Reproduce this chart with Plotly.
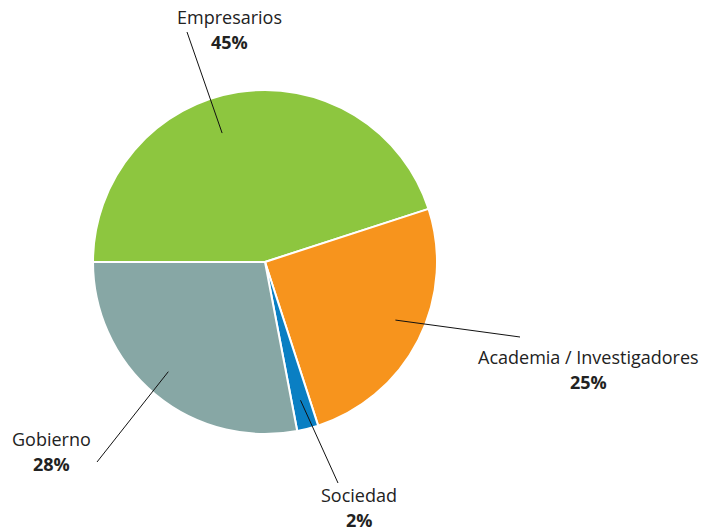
import math
import plotly.graph_objects as go

labels = ["Empresarios", "Academia / Investigadores", "Sociedad", "Gobierno"]
values = [45, 25, 2, 28]
pct_text = ["45%", "25%", "2%", "28%"]
colors = ["#8DC63F", "#F7941D", "#0A7FC3", "#87A7A5"]

W, H = 701, 531
cx, cy, R = 265, 262, 172  # pie center / radius in pixels (layout)

# layout positions of labels (pixels) and leader line ends
label_pos = [(229, 17), (588, 357), (359, 495), (51, 439)]
line_outer = [(187, 32), (520, 337), (338, 483), (97, 462)]
line_angle_adj = [9.4, 3.0, 0.0, -1.8]
line_rfrac = [0.79, 0.83, 0.83, 0.85]

fig = go.Figure(go.Pie(
    labels=labels, values=values, sort=False, direction="clockwise",
    rotation=270, textinfo="none", hoverinfo="label+percent",
    marker=dict(colors=colors, line=dict(color="white", width=2)),
    domain=dict(x=[(cx - R) / W, (cx + R) / W], y=[(H - cy - R) / H, (H - cy + R) / H]),
    showlegend=False,
))

shapes = []
annotations = []
total = sum(values)
start = 180.0
for i, v in enumerate(values):
    sweep = v / total * 360
    mid = math.radians(start - sweep / 2 + line_angle_adj[i])
    start -= sweep
    ix = cx + line_rfrac[i] * R * math.cos(mid)
    iy = cy - line_rfrac[i] * R * math.sin(mid)
    ox, oy = line_outer[i]
    shapes.append(dict(type="line", xref="paper", yref="paper",
                       x0=ix / W, y0=1 - iy / H, x1=ox / W, y1=1 - oy / H,
                       line=dict(color="#111", width=1)))
    lx, ly = label_pos[i]
    annotations.append(dict(x=lx / W, y=1 - ly / H, xref="paper", yref="paper",
                            text=labels[i], showarrow=False, xanchor="center", yanchor="middle",
                            font=dict(size=18, color="#222")))
    annotations.append(dict(x=lx / W, y=1 - (ly + 25) / H, xref="paper", yref="paper",
                            text="<b>" + pct_text[i] + "</b>", showarrow=False,
                            xanchor="center", yanchor="middle",
                            font=dict(size=18, color="#222")))

fig.update_layout(
    width=W, height=H, margin=dict(l=0, r=0, t=0, b=0),
    paper_bgcolor="white", plot_bgcolor="white",
    font=dict(family="Open Sans, sans-serif"),
    shapes=shapes, annotations=annotations,
)
fig.write_html("out.html", config={"displayModeBar": False},
               post_script="document.body.style.margin='0';document.body.style.overflow='hidden';")
